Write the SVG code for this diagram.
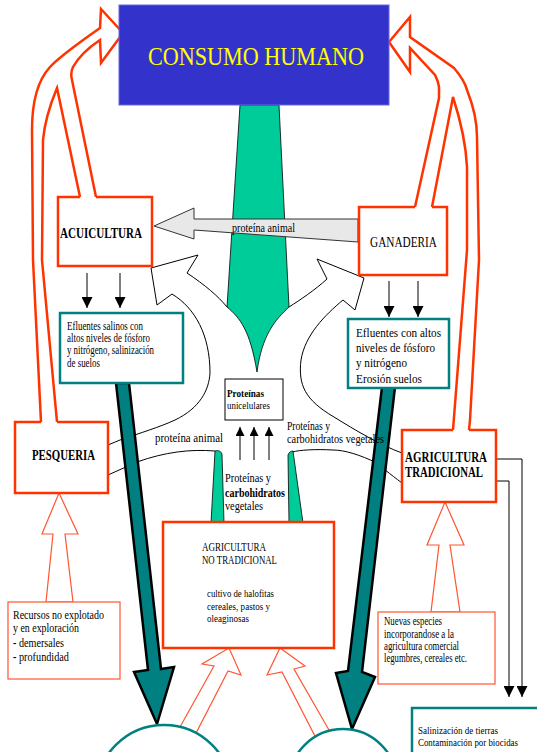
<svg xmlns="http://www.w3.org/2000/svg" width="537" height="752" viewBox="0 0 537 752" font-family="Liberation Serif, DejaVu Serif, serif">
<style>
text{font-family:'Liberation Serif','DejaVu Serif',serif;fill:#000}
.b{font-weight:bold}
.ro{fill:none;stroke:#FF3300;stroke-width:2.5;stroke-linejoin:miter}
.rb{fill:#fff;stroke:#FF3300;stroke-width:2.5}
.rt{fill:#fff;stroke:#FF5533;stroke-width:1.2}
.tb{fill:#fff;stroke:#008080;stroke-width:2.5}
.ln{fill:none;stroke:#000;stroke-width:1}
.ta{fill:#008080;stroke:#000;stroke-width:2.5;stroke-linejoin:miter}
.gs{fill:#00CC99;stroke:#000;stroke-width:0.8}
</style>
<defs>
<marker id="ah" viewBox="0 0 10 10" refX="10" refY="5" markerUnits="userSpaceOnUse" markerWidth="11" markerHeight="11" orient="auto"><path d="M0,0 L10,5 L0,10 Z" fill="#000"/></marker>
<marker id="ah2" viewBox="0 0 10 10" refX="10" refY="5" markerUnits="userSpaceOnUse" markerWidth="9" markerHeight="9" orient="auto"><path d="M0,0 L10,5 L0,10 Z" fill="#000"/></marker>
</defs>
<rect width="537" height="752" fill="#fff"/>
<g id="connectors">
  <path class="gs" d="M240,105 L279,105 L289,307 C275,320 262,335 257,372 C250,330 240,318 227,307 Z"/>
  <path d="M154,226 L194,208 L194,219 L358,219 L358,242 L194,230 L194,239 Z" fill="#E8E8E8" stroke="#333" stroke-width="1"/>
  <text x="232" y="232" font-size="13" textLength="63" lengthAdjust="spacingAndGlyphs">proteína animal</text>
  <path class="ln" d="M108,445 L120,440 C140,433 160,427 175,420 C200,408 209,390 210,373 C210,335 195,308 172,294 L157,305 L151,268 L198,255 L187,273 C205,285 218,296 227,307"/>
  <path class="ln" d="M289,307 C300,300 315,290 327,279 L317,259 L364,278 L355,310 L343,300 C325,315 305,335 301,360 C298,385 305,400 334,417 C355,430 380,445 402,453"/>
  <path class="ln" d="M402,483 C390,474 380,466 377,463 C360,455 345,450 333,450 C315,449 300,450 292,452"/>
  <path class="ln" d="M215,451 C190,449 165,452 137,462 L108,475"/>
  <path class="gs" d="M215,451 C218,450 221,451 222,454 L224,523 L211,523 Z"/>
  <path class="gs" d="M288,455 C289,452 291,451 293,451 L303,523 L289,523 Z"/>
  <path class="ro" d="M41,422 L33,260 L32,130 C32,100 38,80 50,67 C60,56 80,42 100,28 L101,9 L123,33 L101,63 L100,40 C88,48 78,58 73,67 C71,71 71,76 72,80 L96,197"/>
  <path class="ro" d="M80,197 L57,88 C52,100 45,118 43,140 L42,260 L57,422"/>
  <path class="ro" d="M432,207 L453,97 C462,125 466,145 467,167 L467,250 L453,430"/>
  <path class="ro" d="M415,207 L439,98 L439,87 C438,80 436,77 435,75 L410,48 L410,72 L389,42 L410,17 L410,37 L454,68 C460,75 465,82 467,90 C473,105 477,120 477,137 L479,260 L470,420 L469,430"/>
  <path class="ln" d="M87,273 L87,308" marker-end="url(#ah)"/>
  <path class="ln" d="M120,273 L120,308" marker-end="url(#ah)"/>
  <path class="ln" d="M389,281 L389,317" marker-end="url(#ah)"/>
  <path class="ln" d="M418,281 L418,317" marker-end="url(#ah)"/>
  <path class="ln" d="M240,460 L240,427" stroke="#444" marker-end="url(#ah2)"/>
  <path class="ln" d="M254,460 L254,427" marker-end="url(#ah2)"/>
  <path class="ln" d="M269,460 L269,427" marker-end="url(#ah2)"/>
  <path class="ln" d="M497,459 L522,459 L522,697" marker-end="url(#ah)"/>
  <path class="ln" d="M497,481 L509,481 L509,697" marker-end="url(#ah)"/>
  <path class="rt" d="M59,493 L78,534 L65,534 L73,602 L46,602 L53,534 L42,534 Z"/>
  <path class="rt" d="M445,502 L464,545 L450,545 L460,612 L431,612 L439,545 L427,545 Z"/>
  <path class="rt" d="M229,648 L241,675 L228,671 L194,737 L180,727 L214,666 L202,664 Z"/>
  <path class="rt" d="M280,648 L305,666 L294,669 L329,730 L317,740 L282,672 L267,675 Z"/>
  <path class="ta" d="M116,383 L129,383 L161,669 L174,667 L157,724 L134,672 L148,670 Z"/>
  <path class="ta" d="M382,387 L395,387 L362,672 L375,677 L352,729 L336,673 L348,671 Z"/>
  <text x="155" y="442" font-size="12" textLength="68" lengthAdjust="spacingAndGlyphs">proteína animal</text>
  <text x="287" y="430" font-size="12" textLength="43" lengthAdjust="spacingAndGlyphs">Proteínas y</text>
  <text x="287" y="443" font-size="12" textLength="97" lengthAdjust="spacingAndGlyphs">carbohidratos vegetales</text>
  <text x="225" y="482" font-size="12" textLength="46" lengthAdjust="spacingAndGlyphs">Proteínas y</text>
  <text class="b" x="225" y="497" font-size="12" textLength="60" lengthAdjust="spacingAndGlyphs">carbohidratos</text>
  <text x="225" y="510" font-size="12" textLength="38" lengthAdjust="spacingAndGlyphs">vegetales</text>
</g>
<g id="consumo-humano">
  <rect x="119" y="5" width="270" height="100" fill="#3333CC" stroke="#6666DD" stroke-width="1"/>
  <text x="148" y="65" font-size="26" style="fill:#FFFF00" textLength="216" lengthAdjust="spacingAndGlyphs">CONSUMO HUMANO</text>
</g>
<g id="acuicultura">
  <path class="rb" d="M80,197 L58,197 L58,266 L152,266 L152,197 L96,197"/>
  <text class="b" x="60" y="238" font-size="14" textLength="82" lengthAdjust="spacingAndGlyphs">ACUICULTURA</text>
</g>
<g id="ganaderia">
  <path class="rb" d="M415,207 L359,207 L359,275 L447,275 L447,207 L432,207"/>
  <text x="370" y="247" font-size="14" textLength="67" lengthAdjust="spacingAndGlyphs">GANADERIA</text>
</g>
<g id="pesqueria">
  <path class="rb" d="M41,422 L15,422 L15,493 L108,493 L108,422 L57,422"/>
  <text class="b" x="32" y="460" font-size="15" textLength="63" lengthAdjust="spacingAndGlyphs">PESQUERIA</text>
</g>
<g id="agricultura-tradicional">
  <path class="rb" d="M453,430 L402,430 L402,502 L496,502 L496,430 L469,430"/>
  <text class="b" x="405" y="462" font-size="15" textLength="82" lengthAdjust="spacingAndGlyphs">AGRICULTURA</text>
  <text class="b" x="405" y="477" font-size="15" textLength="78" lengthAdjust="spacingAndGlyphs">TRADICIONAL</text>
</g>
<g id="efluentes-salinos">
  <rect class="tb" x="60" y="313" width="123" height="70"/>
  <text x="67" y="330" font-size="11.5" textLength="76" lengthAdjust="spacingAndGlyphs">Efluentes salinos con</text>
  <text x="67" y="342" font-size="11.5" textLength="83" lengthAdjust="spacingAndGlyphs">altos niveles de fósforo</text>
  <text x="67" y="354" font-size="11.5" textLength="87" lengthAdjust="spacingAndGlyphs">y nitrógeno, salinización</text>
  <text x="67" y="367" font-size="11.5" textLength="33" lengthAdjust="spacingAndGlyphs">de suelos</text>
</g>
<g id="efluentes-altos">
  <rect class="tb" x="348" y="319" width="101" height="69"/>
  <text x="356" y="337" font-size="13" textLength="85" lengthAdjust="spacingAndGlyphs">Efluentes con altos</text>
  <text x="356" y="352" font-size="13" textLength="79" lengthAdjust="spacingAndGlyphs">niveles de fósforo</text>
  <text x="356" y="367" font-size="13" textLength="51" lengthAdjust="spacingAndGlyphs">y nitrógeno</text>
  <text x="356" y="383" font-size="13" textLength="66" lengthAdjust="spacingAndGlyphs">Erosión suelos</text>
</g>
<g id="proteinas-unicelulares">
  <rect x="225" y="379" width="58" height="41" fill="#fff" stroke="#000" stroke-width="1"/>
  <text class="b" x="227" y="397" font-size="10" textLength="37" lengthAdjust="spacingAndGlyphs">Proteínas</text>
  <text x="227" y="409" font-size="10" textLength="43" lengthAdjust="spacingAndGlyphs">unicelulares</text>
</g>
<g id="agricultura-no-tradicional">
  <rect class="rb" x="163" y="522" width="171" height="126"/>
  <text x="202" y="551" font-size="11.5" textLength="64" lengthAdjust="spacingAndGlyphs">AGRICULTURA</text>
  <text x="202" y="564" font-size="11.5" textLength="75" lengthAdjust="spacingAndGlyphs">NO TRADICIONAL</text>
  <text x="207" y="597" font-size="10.5" textLength="67" lengthAdjust="spacingAndGlyphs">cultivo de halofitas</text>
  <text x="207" y="610" font-size="10.5" textLength="63" lengthAdjust="spacingAndGlyphs">cereales, pastos y</text>
  <text x="207" y="622" font-size="10.5" textLength="42" lengthAdjust="spacingAndGlyphs">oleaginosas</text>
</g>
<g id="recursos">
  <rect class="rt" x="8" y="602" width="112" height="77"/>
  <text x="13" y="619" font-size="12.5" textLength="91" lengthAdjust="spacingAndGlyphs">Recursos no explotado</text>
  <text x="13" y="632" font-size="12.5" textLength="66" lengthAdjust="spacingAndGlyphs">y en exploración</text>
  <text x="13" y="647" font-size="12.5" textLength="51" lengthAdjust="spacingAndGlyphs"><tspan font-weight="bold">-</tspan> demersales</text>
  <text x="13" y="661" font-size="12.5" textLength="56" lengthAdjust="spacingAndGlyphs"><tspan font-weight="bold">-</tspan> profundidad</text>
</g>
<g id="nuevas-especies">
  <rect class="rt" x="378" y="612" width="117" height="72"/>
  <text x="384" y="625" font-size="11.5" textLength="58" lengthAdjust="spacingAndGlyphs">Nuevas especies</text>
  <text x="384" y="638" font-size="11.5" textLength="70" lengthAdjust="spacingAndGlyphs">incorporandose a la</text>
  <text x="384" y="650" font-size="11.5" textLength="75" lengthAdjust="spacingAndGlyphs">agricultura comercial</text>
  <text x="384" y="662" font-size="11.5" textLength="83" lengthAdjust="spacingAndGlyphs">legumbres, cereales etc.</text>
</g>
<g id="circulo-izquierdo">
  <circle cx="164" cy="793" r="68" fill="#fff" stroke="#008080" stroke-width="2.5"/>
</g>
<g id="circulo-derecho">
  <circle cx="343" cy="783" r="54" fill="#fff" stroke="#008080" stroke-width="2.5"/>
</g>
<g id="salinizacion">
  <rect class="tb" x="412" y="708" width="140" height="60"/>
  <text x="418" y="734" font-size="10.5" textLength="80" lengthAdjust="spacingAndGlyphs">Salinización de tierras</text>
  <text x="418" y="746" font-size="10.5" textLength="100" lengthAdjust="spacingAndGlyphs">Contaminación por biocidas</text>
</g>
</svg>
